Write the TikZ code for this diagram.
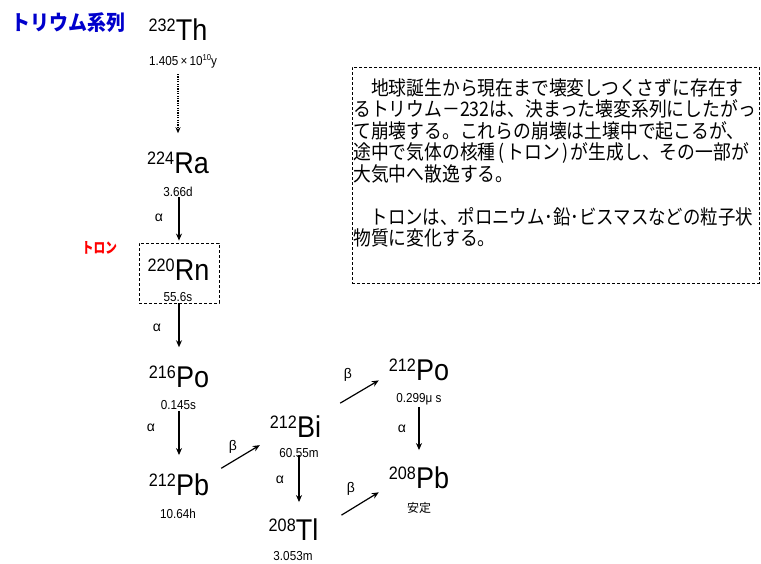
\documentclass[tikz,border=0pt]{standalone}
\usepackage{fontspec}
\usetikzlibrary{arrows.meta,calc}
\setmainfont{Liberation Sans}
\newfontfamily\elfont[FakeStretch=0.9]{Liberation Sans}
\newfontfamily\jptext[FakeStretch=0.89]{Noto Sans CJK JP}
\newfontfamily\jptextn[FakeStretch=0.87]{Noto Sans CJK JP}
\newfontfamily\jptitle[FakeStretch=0.9]{Noto Sans CJK JP}
\newfontfamily\jpred[FakeStretch=0.78]{Noto Sans CJK JP}
\newfontfamily\jpsmall{Noto Sans CJK JP}
\definecolor{titleblue}{RGB}{0,0,204}
\newcommand\nucl[2]{\raisebox{9pt}{\fontsize{18}{18}\selectfont #1}\fontsize{30}{30}\selectfont #2}
\begin{document}
\begin{tikzpicture}[x=1pt,y=-1pt,
  nuc/.style={anchor=base,inner sep=0pt,font=\elfont},
  hl/.style={anchor=base,inner sep=0pt,font=\elfont\fontsize{13}{13}\selectfont},
  lbl/.style={inner sep=0pt,font=\fontsize{14}{14}\selectfont},
  decay/.style={-{Stealth[length=7pt,width=6pt]},line width=1.2pt},
  dashbox/.style={draw,dash pattern=on 3pt off 2pt,line width=0.9pt},
  jline/.style={anchor=base west,inner sep=0pt,font=\jptext\fontsize{20}{20}\selectfont}]
\useasboundingbox (0,0) rectangle (761,563);
% title
\node[inner sep=0pt,text=titleblue,font=\jptitle\bfseries\fontsize{21}{21}\selectfont] (title) at (68.5,23) {トリウム系列};
% nuclides
\node[nuc] (th) at (178,40) {\nucl{232}{Th}};
\node[hl] (thhl) at (183,65) {1.405\,×\,10\raisebox{4.5pt}{\fontsize{8.5}{8.5}\selectfont 10}y};
\node[nuc] (ra) at (178,173) {\nucl{224}{Ra}};
\node[hl] (rahl) at (178,196) {3.66d};
\node[dashbox,minimum width=80pt,minimum height=60pt,inner sep=0pt] (rnbox) at (179,273) {};
\node[nuc] (rn) at (178.5,280) {\nucl{220}{Rn}};
\node[hl] (rnhl) at (178,301) {55.6s};
\node[inner sep=0pt,text=red,font=\jpred\bfseries\fontsize{15}{15}\selectfont] (thoron) at (99.5,248) {トロン};
\node[nuc] (po216) at (179,387) {\nucl{216}{Po}};
\node[hl] (po216hl) at (178.5,409) {0.145s};
\node[nuc] (pb212) at (179,495) {\nucl{212}{Pb}};
\node[hl] (pb212hl) at (178,518) {10.64h};
\node[nuc] (bi) at (295.5,437) {\nucl{212}{Bi}};
\node[hl] (bihl) at (299,457) {60.55m};
\node[nuc] (tl) at (293.5,540) {\nucl{208}{Tl}};
\node[hl] (tlhl) at (293,560.5) {3.053m};
\node[nuc] (po212) at (419,380) {\nucl{212}{Po}};
\node[hl] (po212hl) at (419,402) {0.299μ s};
\node[nuc] (pb208) at (419,488) {\nucl{208}{Pb}};
\node[anchor=base,inner sep=0pt,font=\jpsmall\fontsize{12}{12}\selectfont] (stable) at (419,512) {安定};
% decay labels
\node[lbl] (a1) at (159,218) {α};
\node[lbl] (a2) at (157,328) {α};
\node[lbl] (a3) at (151,428) {α};
\node[lbl] (a4) at (280,480) {α};
\node[lbl] (a5) at (402,429) {α};
\node[lbl] (b1) at (233,447) {β};
\node[lbl] (b2) at (348,375) {β};
\node[lbl] (b3) at (351,489) {β};
% arrows
\draw[-{Stealth[length=6pt,width=5pt]},line width=1.1pt,dash pattern=on 1.2pt off 1.2pt,shorten <=6pt,shorten >=18pt] (ra.north |- thhl.south) -- (ra.north);
\draw[decay,shorten <=1pt,shorten >=2pt] (rnbox.north |- rahl.south) -- (rnbox.north);
\draw[decay,shorten >=18pt] (rnbox.south) -- (rnbox.south |- po216.north);
\draw[decay,shorten <=2pt,shorten >=18pt] (pb212.north |- po216hl.south) -- (pb212.north);
\draw[decay,shorten <=-2pt,shorten >=16pt] (bihl.south) -- (bihl.south |- tl.north);
\draw[decay,shorten <=2.5pt,shorten >=16pt] (pb208.north |- po212hl.south) -- (pb208.north);
\draw[decay] ($(pb212.east)+(12,-16)$) -- ($(bi.west)+(-10,19)$);
\draw[decay] ($(bi.east)+(19,-23)$) -- ($(po212.west)+(-10,11)$);
\draw[decay] ($(tl.east)+(23,-14)$) -- ($(pb208.west)+(-10,15)$);
% note box
\node[dashbox,anchor=north west,minimum width=407pt,minimum height=216pt,inner sep=0pt] (note) at (352,67) {};
\node[jline] (n1) at (353,95) {　地球誕生から現在まで壊変しつくさずに存在す};
\node[jline] (n2) at (353,116.5) {るトリウム－232は、決まった壊変系列にしたがっ};
\node[jline] (n3) at (353,138) {て崩壊する。これらの崩壊は土壌中で起こるが、};
\node[jline] (n4) at (353,159.5) {途中で気体の核種\makebox[11pt]{(}トロン\makebox[11pt]{)}が生成し、その一部が};
\node[jline] (n5) at (353,181) {大気中へ散逸する。};
\node[jline,font=\jptextn\fontsize{20}{20}\selectfont] (n6) at (353,224) {　トロンは、ポロニウム･鉛･ビスマスなどの粒子状};
\node[jline] (n7) at (353,245.5) {物質に変化する。};
\end{tikzpicture}
\end{document}
